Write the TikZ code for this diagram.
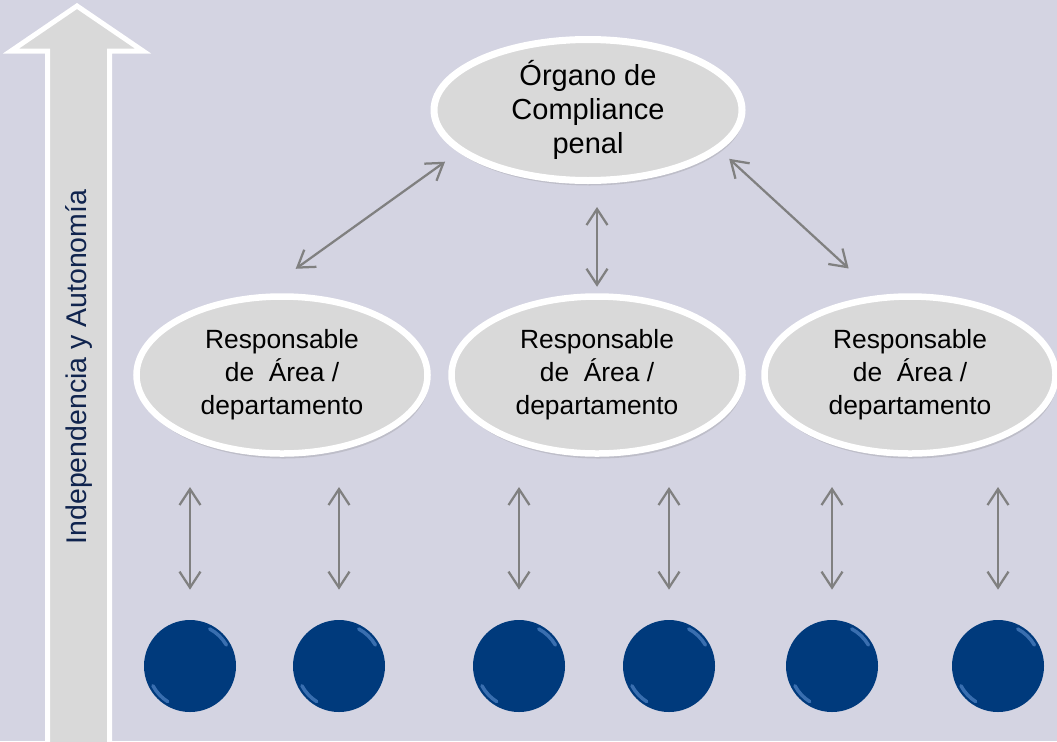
\documentclass[tikz,border=0pt]{standalone}
\usepackage{fontspec}
\setmainfont{Liberation Sans}
\usetikzlibrary{arrows.meta, positioning, shapes.geometric, shadows}
\definecolor{fondo}{RGB}{212,212,226}
\definecolor{gris}{RGB}{217,217,217}
\definecolor{flecha}{RGB}{128,128,128}
\definecolor{azul}{RGB}{0,58,124}
\definecolor{brillo}{RGB}{95,145,210}
\definecolor{marino}{RGB}{16,36,78}

\begin{document}
\begin{tikzpicture}[
    x=0.2mm, y=-0.2mm,
    cumbre/.style={ellipse, draw=white, line width=0.14cm, fill=gris, minimum width=6.16cm, minimum height=2.36cm, inner sep=0pt, align=center, font=\fontsize{16.5}{19.5}\selectfont, drop shadow={opacity=0.25, shadow xshift=0.03cm, shadow yshift=-0.1cm}},
    area/.style={cumbre, minimum width=5.82cm, minimum height=3.14cm, line width=0.13cm, font=\fontsize{15}{18.8}\selectfont},
    ball/.style={circle, fill=azul, minimum size=1.84cm, inner sep=0pt},
    link/.style={draw=flecha, line width=0.045cm, {Straight Barb[length=0.32cm, width=0.42cm]}-{Straight Barb[length=0.32cm, width=0.42cm]}}
]

% Fondo
\fill[fondo] (0,0) rectangle (1057,741);
\clip (0,0) rectangle (1057,741);

% Flecha de independencia
\filldraw[draw=white, fill=gris, line width=0.1cm, drop shadow={opacity=0.2, shadow xshift=0.04cm, shadow yshift=-0.04cm}]
    (47.5,760) -- (47.5,51) -- (11,51) -- (77,6) -- (143,51) -- (109.5,51) -- (109.5,760) -- cycle;
\node[rotate=90, text=marino, font=\fontsize{16.2}{19}\selectfont, draw=none] (eje) at (79,367) {Independencia y Autonomía};

% Organo
\node[cumbre] (org) at (588,110) {Órgano de\\Compliance\\penal};

% Responsables
\node[area] (resp1) at (282,375) {Responsable\\de~ Área /\\departamento};
\node[area] (resp2) at (597,375) {Responsable\\de~ Área /\\departamento};
\node[area] (resp3) at (910,375) {Responsable\\de~ Área /\\departamento};

\draw[link, shorten <=0.87cm, shorten >=0.33cm] (resp1.105) -- (org.198);
\draw[link, shorten <=0.13cm, shorten >=0.46cm] (resp2.north) -- (resp2.north |- org.south);
\draw[link, shorten <=0.25cm, shorten >=0.79cm] (org.343) -- (resp3.112);

% Personas
\foreach \x [count=\i] in {190,339,519,669,832,998} {
    \node[ball] (b\i) at (\x,666) {};
    \draw[brillo, opacity=0.6, line width=0.07cm, line cap=round] ([shift={(30:0.84cm)}]b\i.center) arc[start angle=30, end angle=62, radius=0.84cm];
    \draw[brillo, opacity=0.6, line width=0.07cm, line cap=round] ([shift={(208:0.84cm)}]b\i.center) arc[start angle=208, end angle=238, radius=0.84cm];
    \coordinate (t\i) at (\x,487);
    \draw[link, shorten >=0.6cm] (t\i) -- (b\i);
}

\end{tikzpicture}
\end{document}
